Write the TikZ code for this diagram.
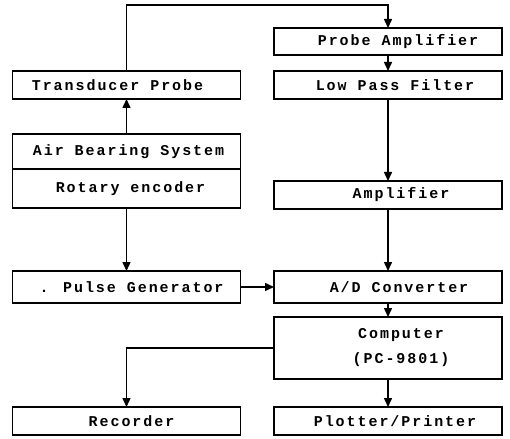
\documentclass[tikz,border=0pt]{standalone}
\usepackage{fontspec}
\usetikzlibrary{arrows.meta}
\newfontfamily\dotfont[LetterSpace=13]{Liberation Mono}
\begin{document}
\begin{tikzpicture}[x=1pt,y=-1pt,
  blk/.style={draw, line width=1.5pt, minimum width=228pt, inner sep=0pt, outer sep=0pt, font=\dotfont\bfseries\fontsize{15}{17}\selectfont, align=center},
  arr/.style={line width=1.5pt, -{Triangle[length=9pt,width=8pt]}}]
\useasboundingbox (0,0) rectangle (510,438);
\fill[white] (0,0) rectangle (510,438);
% nodes
\node[blk, minimum height=27pt] (pa)  at (388,41.5) {\hspace*{20pt}Probe Amplifier};
\node[blk, minimum height=28pt] (tp)  at (126.5,85) {Transducer Probe\hspace*{18pt}};
\node[blk, minimum height=28pt] (lpf) at (388,85)   {\hspace*{14pt}Low Pass Filter};
\node[blk, minimum height=35pt] (ab)  at (126.5,151.5) {\hspace*{4pt}Air Bearing System};
\node[blk, minimum height=39pt] (re)  at (126.5,188.5) {\hspace*{8pt}Rotary encoder};
\node[blk, minimum height=28pt] (amp) at (388,195)  {\hspace*{26pt}Amplifier};
\node[blk, minimum height=32pt] (pg)  at (126.5,287) {\hspace*{10pt}. Pulse Generator};
\node[blk, minimum height=32pt] (ad)  at (388,287)  {\hspace*{22pt}A/D Converter};
\node[blk, minimum height=62pt] (comp) at (388,348) {\hspace*{26pt}Computer\\[8pt]\hspace*{26pt}(PC-9801)};
\node[blk, minimum height=28pt] (rec) at (126.5,421) {\hspace*{10pt}Recorder};
\node[blk, minimum height=28pt] (pp)  at (388,421)  {\hspace*{14pt}Plotter/Printer};
% top loop
\coordinate (tl) at (126.5,5);
\coordinate (tr) at (388,5);
\draw[arr] (tp.north) -- (tl) -- (tr) -- (pa.north);
\draw[arr] (pa.south) -- (lpf.north);
\draw[arr] (ab.north) -- (tp.south);
\draw[arr] (lpf.south) -- (amp.north);
\draw[arr] (re.south) -- (pg.north);
\draw[arr] (amp.south) -- (ad.north);
\draw[arr] (pg.east) -- (ad.west);
\draw[arr] (ad.south) -- (comp.north);
\draw[arr] (comp.west) -| (rec.north);
\draw[arr] (comp.south) -- (pp.north);
\end{tikzpicture}
\end{document}
